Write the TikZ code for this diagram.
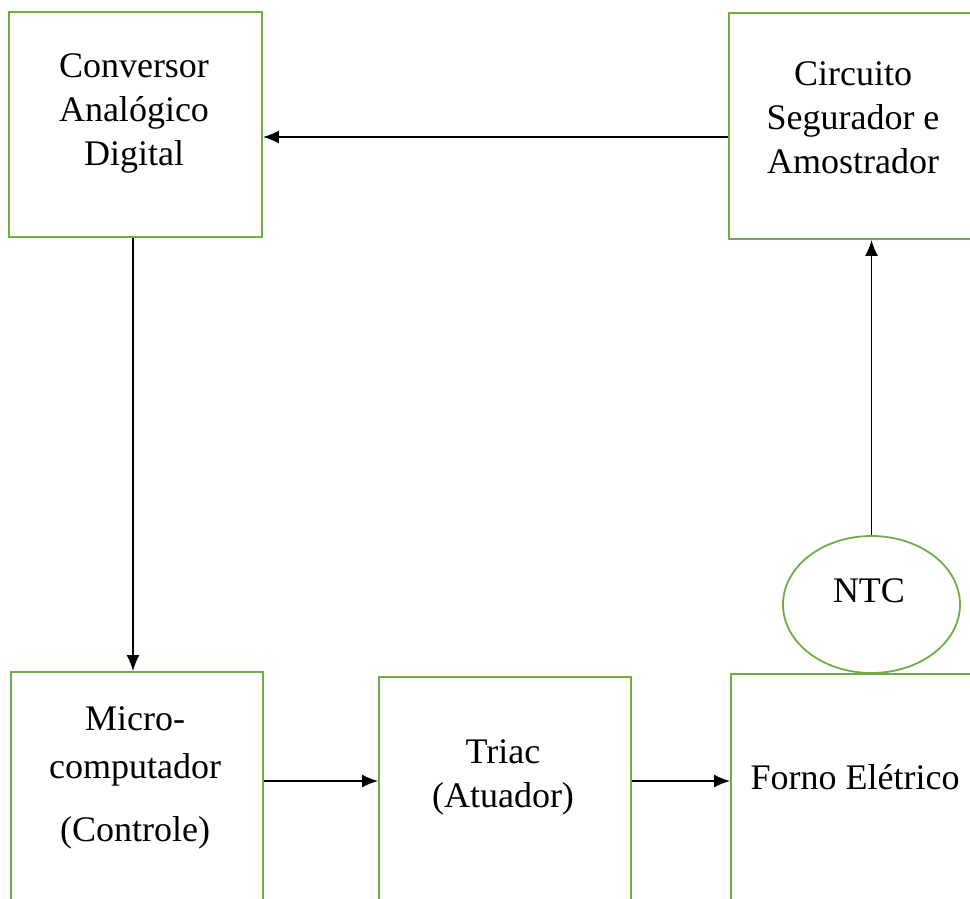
\documentclass[tikz,border=0pt]{standalone}
\usepackage{fontspec}
\setmainfont{Liberation Serif}
\usetikzlibrary{arrows.meta,shapes.geometric}
\definecolor{boxgreen}{HTML}{70AD47}
\begin{document}
\begin{tikzpicture}[x=1pt,y=-1pt,
  box/.style={draw=boxgreen,line width=1.8pt,rectangle,inner sep=0pt},
  txt/.style={align=center,inner sep=0pt,font=\fontsize{36}{44}\selectfont},
  arr/.style={draw=black,line width=1.8pt,-{Latex[length=16pt,width=13pt]}}]
\clip (0,0) rectangle (970,898);
\fill[white] (0,0) rectangle (970,898);
% boxes
\node[box,minimum width=253pt,minimum height=225pt] (conv) at (135.5,124.5) {};
\node[box,minimum width=261pt,minimum height=226pt] (circ) at (859.5,126) {};
\node[box,minimum width=252pt,minimum height=248pt] (micro) at (137,796) {};
\node[box,minimum width=252pt,minimum height=243pt] (triac) at (505,798.5) {};
\node[box,minimum width=259pt,minimum height=246pt] (forno) at (860.5,797) {};
\node[draw=boxgreen,line width=1.8pt,ellipse,inner sep=0pt,minimum width=177pt,minimum height=137pt] (ntc) at (871.5,604.5) {};
% texts
\node[txt] (convT) at (134,113) {Conversor\\Analógico\\Digital};
\node[txt] (circT) at (853,118) {Circuito\\Segurador e\\Amostrador};
\node[txt] (microT) at (135,778) {Micro-\\[4pt]computador\\[19pt](Controle)};
\node[txt] (triacT) at (503,777) {Triac\\(Atuador)};
\node[txt] (fornoT) at (855,777) {Forno Elétrico};
\node[txt] (ntcT) at (869,591) {NTC};
% connectors
\coordinate (rowT) at (0,137);
\coordinate (rowB) at (0,781);
\coordinate (colL) at (133,0);
\draw[arr] (circ.west |- rowT) -- (conv.east |- rowT);
\draw[arr] (colL |- conv.south) -- (colL |- micro.north);
\draw[arr] (ntc.north) -- (ntc.north |- circ.south);
\draw[arr] (micro.east |- rowB) -- (triac.west |- rowB);
\draw[arr] (triac.east |- rowB) -- (forno.west |- rowB);
\end{tikzpicture}
\end{document}
